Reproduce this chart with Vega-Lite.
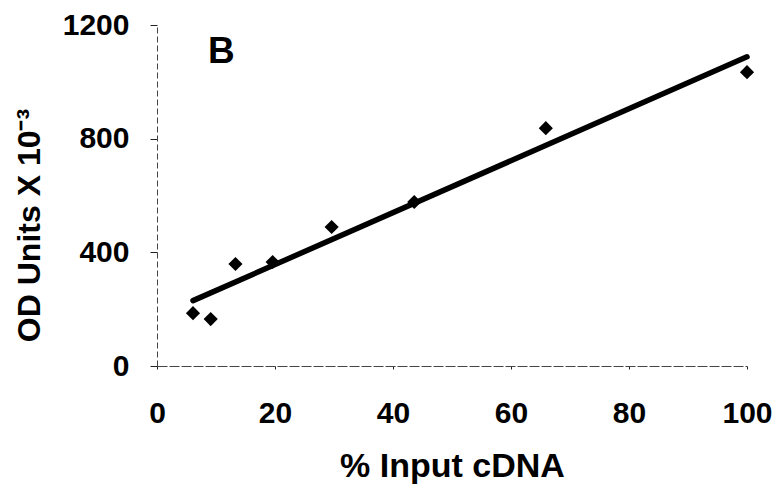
{
  "$schema": "https://vega.github.io/schema/vega-lite/v6.json",
  "width": 590,
  "height": 341,
  "autosize": {"type": "none"},
  "padding": {"left": 157, "top": 25, "right": 32, "bottom": 124},
  "background": "white",
  "config": {
    "view": {"stroke": null},
    "font": "Liberation Sans",
    "axis": {
      "grid": false,
      "labelFont": "Liberation Sans",
      "labelFontWeight": "bold",
      "labelFontSize": 30,
      "labelColor": "black",
      "labelFlush": false,
      "labelOverlap": false,
      "titleFont": "Liberation Sans",
      "titleFontWeight": "bold",
      "titleFontSize": 32,
      "titleColor": "black",
      "domainColor": "#444",
      "tickColor": "#222"
    }
  },
  "datasets": {
    "points": [
      {"input": 6.1, "od": 186},
      {"input": 9.1, "od": 165},
      {"input": 13.3, "od": 359},
      {"input": 19.6, "od": 366},
      {"input": 29.6, "od": 489},
      {"input": 43.6, "od": 577},
      {"input": 65.9, "od": 837},
      {"input": 100, "od": 1034}
    ],
    "fit": [
      {"input": 6.1, "od": 230},
      {"input": 100, "od": 1088}
    ],
    "panel": [
      {"input": 10.9, "od": 1067, "label": "B"}
    ]
  },
  "encoding": {
    "x": {
      "field": "input", "type": "quantitative",
      "scale": {"domain": [0, 100], "nice": false, "zero": true},
      "axis": {"values": [0, 20, 40, 60, 80, 100], "format": "d", "title": "% Input cDNA", "titleFontSize": 34, "tickSize": 3, "labelPadding": 29, "titlePadding": 21, "domainDash": [10, 2], "domainWidth": 1.2}
    },
    "y": {
      "field": "od", "type": "quantitative",
      "scale": {"domain": [0, 1200], "nice": false},
      "axis": {"values": [0, 400, 800, 1200], "format": "d", "title": "OD Units X 10⁻³", "titleY": 200, "tickSize": 7, "labelPadding": 21, "titlePadding": 16, "domainDash": [6, 3], "domainWidth": 1}
    }
  },
  "layer": [
    {
      "data": {"name": "fit"},
      "mark": {"type": "line", "color": "black", "strokeWidth": 5.5, "strokeCap": "round"}
    },
    {
      "data": {"name": "points"},
      "mark": {"type": "point", "shape": "diamond", "filled": true, "color": "black", "opacity": 1, "size": 200}
    },
    {
      "data": {"name": "panel"},
      "mark": {"type": "text", "fontSize": 37, "fontWeight": "bold", "font": "Liberation Sans", "color": "black", "baseline": "alphabetic", "align": "center"},
      "encoding": {"text": {"field": "label"}}
    }
  ]
}
